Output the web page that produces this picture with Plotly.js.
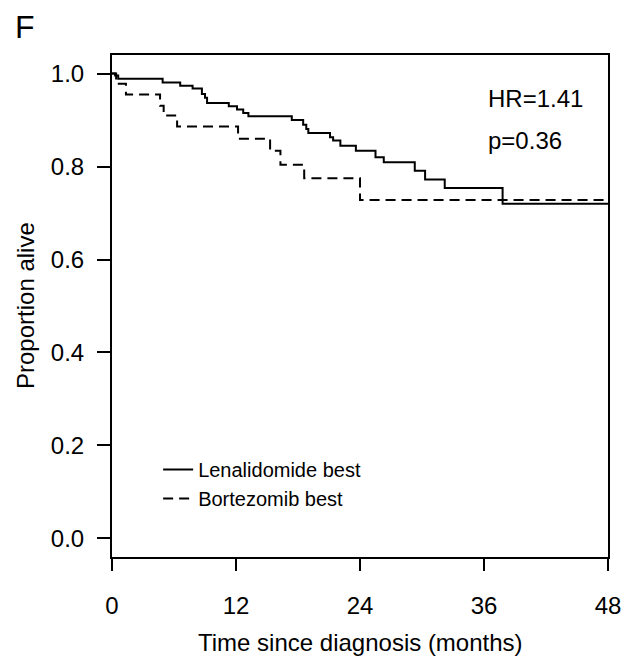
<!DOCTYPE html>
<html>
<head>
<meta charset="utf-8">
<script src="https://cdn.plot.ly/plotly-3.0.1.min.js"></script>
<style>html,body{margin:0;padding:0;background:#fff;}#chart{width:631px;height:659px;}</style>
</head>
<body>
<div id="chart"></div>
<script>
// Kaplan-Meier step data
var lenaName = "Lenalidomide best";
var lenaTime = [0, 0.3, 0.6, 4.9, 6.6, 7.8, 8.7, 9.0, 9.2, 11.3, 12.1, 12.7, 13.2, 17.4, 18.5, 18.8, 19.0, 21.1, 21.4, 22.1, 23.6, 25.5, 26.3, 29.3, 30.3, 32.2, 37.8, 48];
var lenaSurv = [1.0, 0.996, 0.989, 0.981, 0.974, 0.968, 0.956, 0.948, 0.937, 0.930, 0.923, 0.915, 0.908, 0.900, 0.890, 0.881, 0.872, 0.863, 0.856, 0.845, 0.834, 0.820, 0.809, 0.791, 0.772, 0.754, 0.720, 0.720];

var bortName = "Bortezomib best";
var bortTime = [0, 0.4, 1.35, 4.65, 5.0, 6.3, 12.2, 15.3, 16.3, 18.6, 24.0, 48];
var bortSurv = [1.0, 0.978, 0.955, 0.931, 0.910, 0.886, 0.860, 0.834, 0.804, 0.775, 0.728, 0.728];

var xTicks = [0, 12, 24, 36, 48];
var yTicks = [0, 0.2, 0.4, 0.6, 0.8, 1.0];
var yTickText = ["0.0", "0.2", "0.4", "0.6", "0.8", "1.0"];

var panelLabel = "F";
var xTitle = "Time since diagnosis (months)";
var yTitle = "Proportion alive";
var hrText = "HR=1.41";
var pText = "p=0.36";

var FONT = "Liberation Sans, Arial, Helvetica, sans-serif";

var traces = [
  {x: lenaTime, y: lenaSurv, name: lenaName, type: "scatter", mode: "lines",
   line: {shape: "hv", color: "#000", width: 2}},
  {x: bortTime, y: bortSurv, name: bortName, type: "scatter", mode: "lines",
   line: {shape: "hv", color: "#000", width: 2, dash: "10px,6px"}}
];

var layout = {
  width: 631, height: 659,
  margin: {l: 112, r: 23, t: 55, b: 102, pad: 0},
  paper_bgcolor: "#fff", plot_bgcolor: "#fff",
  font: {family: FONT, color: "#000", size: 24},
  showlegend: true,
  legend: {x: 0.093, y: 0.213, xanchor: "left", yanchor: "top",
           font: {family: FONT, size: 20, color: "#000"}, bgcolor: "rgba(0,0,0,0)",
           tracegroupgap: 0},
  xaxis: {range: [0, 48], tickvals: xTicks, ticktext: xTicks.map(String),
          showline: true, mirror: true, linecolor: "#000", linewidth: 2,
          ticks: "outside", ticklen: 12, tickwidth: 2, tickcolor: "#000",
          showgrid: false, zeroline: false, ticklabelstandoff: 14,
          tickfont: {family: FONT, size: 24, color: "#000"}},
  yaxis: {range: [-0.04, 1.04], tickvals: yTicks, ticktext: yTickText,
          showline: true, mirror: true, linecolor: "#000", linewidth: 2,
          ticks: "outside", ticklen: 13, tickwidth: 2, tickcolor: "#000",
          showgrid: false, zeroline: false, ticklabelstandoff: 8,
          tickfont: {family: FONT, size: 24, color: "#000"}},
  annotations: [
    {text: panelLabel, xref: "paper", yref: "paper", x: -0.2, y: 1.055, xanchor: "left", yanchor: "middle",
     showarrow: false, font: {family: FONT, size: 32, color: "#000"}},
    {text: xTitle, xref: "paper", yref: "paper", x: 0.5, y: 0, yshift: -85, xanchor: "center", yanchor: "middle",
     showarrow: false, font: {family: FONT, size: 24, color: "#000"}},
    {text: yTitle, xref: "paper", yref: "paper", x: 0, y: 0.5, xshift: -87, xanchor: "center", yanchor: "middle",
     textangle: -90, showarrow: false, font: {family: FONT, size: 24, color: "#000"}},
    {text: hrText, xref: "x", yref: "y", x: 36.2, y: 0.946, xanchor: "left", yanchor: "middle",
     showarrow: false, font: {family: FONT, size: 24, color: "#000"}},
    {text: pText, xref: "x", yref: "y", x: 36.2, y: 0.856, xanchor: "left", yanchor: "middle",
     showarrow: false, font: {family: FONT, size: 24, color: "#000"}}
  ]
};

Plotly.newPlot("chart", traces, layout, {displayModeBar: false, staticPlot: true});
</script>
</body>
</html>
